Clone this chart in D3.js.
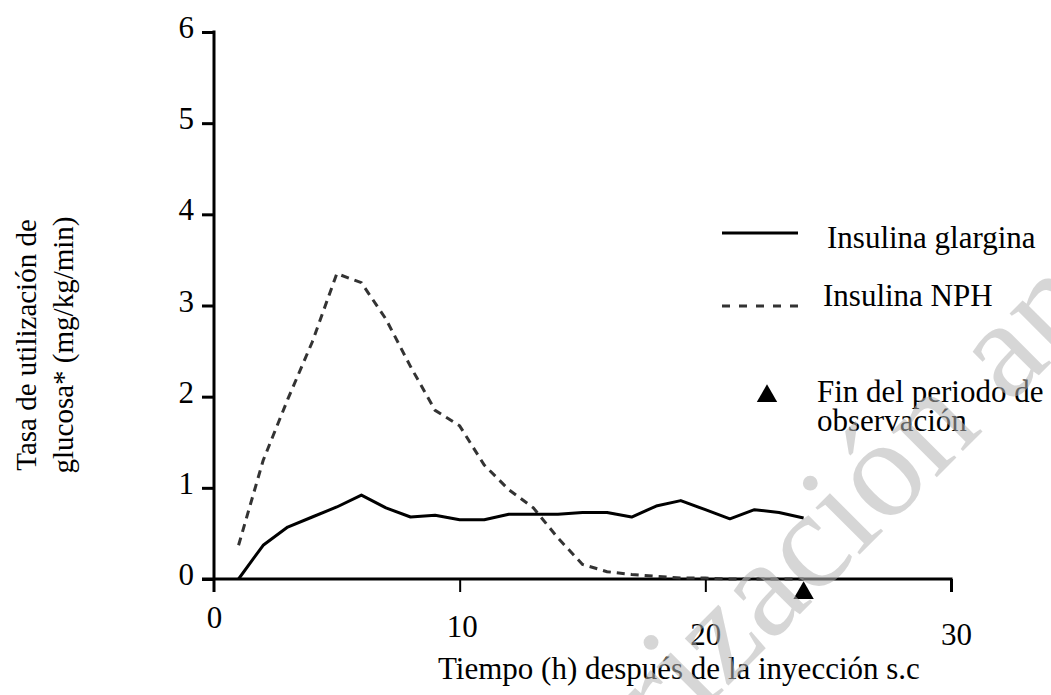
<!DOCTYPE html>
<html>
<head>
<meta charset="utf-8">
<script src="https://cdn.jsdelivr.net/npm/d3@7"></script>
<style>
  body { margin: 0; background: #fff; }
  svg { display: block; }
  text { font-family: "Liberation Serif", "Times New Roman", serif; fill: #000; }
</style>
</head>
<body>
<div id="chart"></div>
<script>
// data
const hours = [1, 2, 3, 4, 5, 6, 7, 8, 9, 10, 11, 12, 13, 14, 15, 16, 17, 18, 19, 20, 21, 22, 23, 24];
const glargina = [0, 0.37, 0.57, 0.68, 0.79, 0.92, 0.78, 0.68, 0.7, 0.65, 0.65, 0.71, 0.71, 0.71, 0.73, 0.73, 0.68, 0.8, 0.86, 0.76, 0.66, 0.76, 0.73, 0.67];
const nph = [0.37, 1.3, 1.97, 2.6, 3.35, 3.25, 2.85, 2.33, 1.85, 1.68, 1.25, 0.98, 0.78, 0.45, 0.16, 0.08, 0.05, 0.03, 0.01, 0.01, 0, 0, 0, 0];
const xTicks = [0, 10, 20, 30];
const yTicks = [0, 1, 2, 3, 4, 5, 6];
const endObservation = 24;

const width = 1051, height = 695;

const svg = d3.select("#chart").append("svg")
  .attr("width", width)
  .attr("height", height);

svg.append("rect").attr("width", width).attr("height", height).attr("fill", "#fff");

const x = d3.scaleLinear().domain([0, 30]).range([214, 951]);
const y = d3.scaleLinear().domain([0, 6]).range([579, 32]);

// y axis
const yAxis = svg.append("g")
  .attr("transform", `translate(${x(0)},0)`)
  .call(d3.axisLeft(y).tickValues(yTicks).tickFormat(d3.format("d")).tickSize(12).tickPadding(8));
yAxis.select(".domain").remove();
yAxis.selectAll(".tick line").attr("stroke", "#000").attr("stroke-width", 3);
yAxis.selectAll(".tick text")
  .attr("font-size", 31)
  .attr("font-family", "Liberation Serif")
  .attr("dy", "0.18em");
svg.append("line")
  .attr("x1", x(0)).attr("x2", x(0))
  .attr("y1", y(6) - 1.5).attr("y2", y(0) + 13)
  .attr("stroke", "#000").attr("stroke-width", 3);

// x axis, labels are staggered in the original
const labelBase = { 0: 628, 10: 637, 20: 645, 30: 645 };
const labelNudge = { 0: 0, 10: 2, 20: 0, 30: 5 };
const xAxis = svg.append("g")
  .attr("transform", `translate(0,${y(0)})`)
  .call(d3.axisBottom(x).tickValues(xTicks).tickSize(13));
xAxis.select(".domain").remove();
xAxis.selectAll(".tick line")
  .attr("stroke", "#000")
  .attr("stroke-width", (d) => (d === 30 ? 3 : 2))
  .attr("opacity", (d) => (d === 0 ? 0 : 1));
xAxis.selectAll(".tick text")
  .attr("font-size", 31)
  .attr("font-family", "Liberation Serif")
  .attr("dy", null)
  .attr("x", (d) => labelNudge[d])
  .attr("y", (d) => labelBase[d] - y(0));
svg.append("line")
  .attr("x1", x(0) - 12).attr("x2", x(30) + 1.5)
  .attr("y1", y(0)).attr("y2", y(0))
  .attr("stroke", "#000").attr("stroke-width", 3);

// axis titles
svg.append("text")
  .attr("x", 438).attr("y", 679)
  .attr("font-size", 31)
  .text("Tiempo (h) después de la inyección s.c");

const yTitle = svg.append("text")
  .attr("transform", "translate(0,345) rotate(-90)")
  .attr("text-anchor", "middle")
  .attr("font-size", 29);
yTitle.append("tspan").attr("x", 0).attr("y", 36).text("Tasa de utilización de");
yTitle.append("tspan").attr("x", 0).attr("y", 73).text("glucosa* (mg/kg/min)");

// series
const line = (vals) => d3.line()
  .x((d, i) => x(hours[i]))
  .y((d) => y(d))(vals);

svg.append("path")
  .attr("d", line(nph))
  .attr("fill", "none")
  .attr("stroke", "#333")
  .attr("stroke-width", 3)
  .attr("stroke-dasharray", "8,6");

svg.append("path")
  .attr("d", line(glargina))
  .attr("fill", "none")
  .attr("stroke", "#000")
  .attr("stroke-width", 3)
  .attr("stroke-linejoin", "round");

// end of observation marker
const tri = d3.symbol().type(d3.symbolTriangle).size(180);
svg.append("path")
  .attr("d", tri())
  .attr("transform", `translate(${x(endObservation)},${y(0) + 14})`)
  .attr("fill", "#000");

// legend
svg.append("line")
  .attr("x1", 722).attr("x2", 798).attr("y1", 233).attr("y2", 233)
  .attr("stroke", "#000").attr("stroke-width", 3);
svg.append("text").attr("x", 827).attr("y", 248).attr("font-size", 31).text("Insulina glargina");

svg.append("line")
  .attr("x1", 722).attr("x2", 798).attr("y1", 306).attr("y2", 306)
  .attr("stroke", "#333").attr("stroke-width", 3)
  .attr("stroke-dasharray", "8,9");
svg.append("text").attr("x", 823).attr("y", 306).attr("font-size", 31).text("Insulina NPH");

svg.append("path")
  .attr("d", tri())
  .attr("transform", "translate(767,396)")
  .attr("fill", "#000");
svg.append("text").attr("x", 817).attr("y", 402).attr("font-size", 31).text("Fin del periodo de");
svg.append("text").attr("x", 817).attr("y", 431).attr("font-size", 31).text("observación");

// watermark
svg.append("text")
  .attr("transform", "translate(892,522) rotate(-45)")
  .attr("text-anchor", "middle")
  .attr("font-family", "Liberation Sans, Arial, sans-serif")
  .attr("font-size", 140)
  .attr("fill-opacity", 0.55)
  .style("fill", "#b4b4b4")
  .text("Autorización anulada");
</script>
</body>
</html>
